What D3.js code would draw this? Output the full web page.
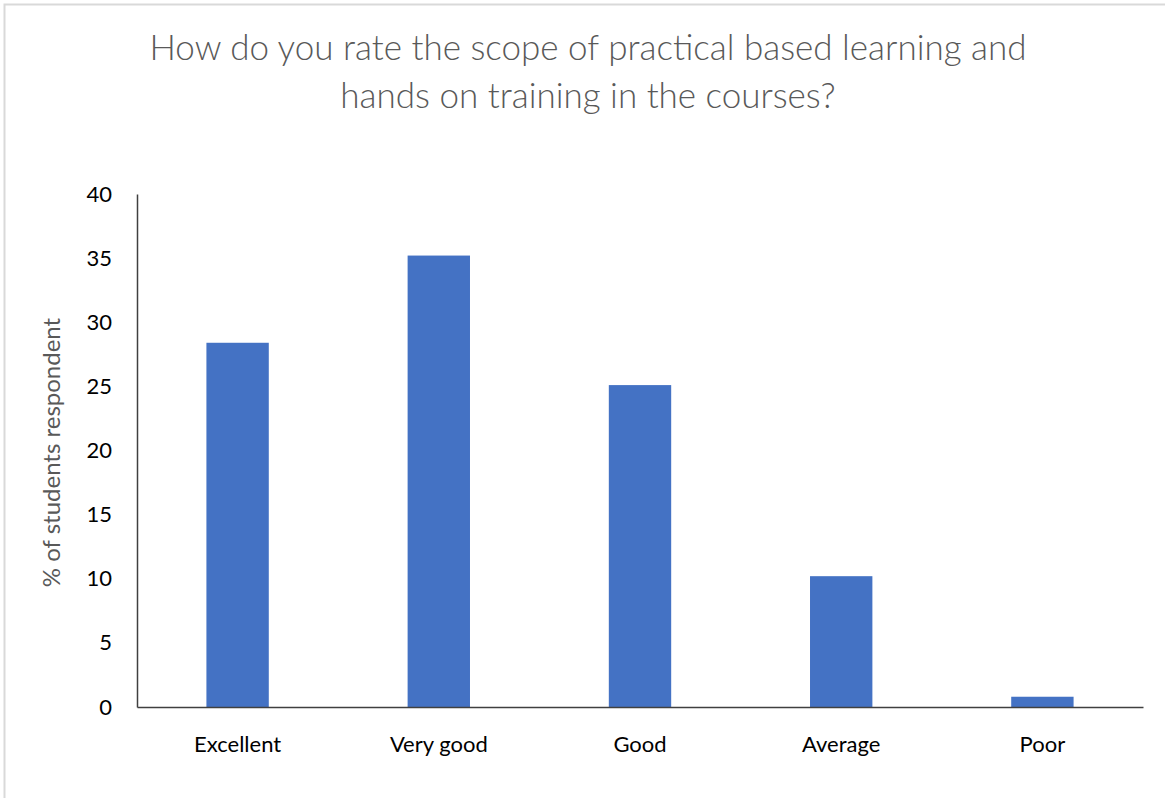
<html lang="en">
<head>
<meta charset="utf-8">
<title>Practical based learning rating</title>
<script src="https://cdnjs.cloudflare.com/ajax/libs/d3/7.8.5/d3.min.js"></script>
<style>
  body { margin: 0; background: white; }
  svg { display: block; font-family: Lato, "Open Sans", sans-serif; }
  .title { font-size: 35px; fill: #595959; font-weight: 300; }
  .ylabel { font-size: 24px; fill: #595959; }
  .axis text { font-size: 22px; fill: #000; font-family: Lato, "Open Sans", sans-serif; }
  .axis path { stroke: #404040; stroke-width: 1.5px; }
  .axis line { display: none; }
</style>
</head>
<body>
<script>
var categories = ["Excellent", "Very good", "Good", "Average", "Poor"];
var values = [28.4, 35.2, 25.1, 10.2, 0.8];
var yTicks = [0, 5, 10, 15, 20, 25, 30, 35, 40];

var fullwidth = 1165, fullheight = 798;
var margin = { top: 194, right: 22, bottom: 91, left: 137 };
var width = fullwidth - margin.left - margin.right;
var height = fullheight - margin.top - margin.bottom;

var root = d3.select("body").append("svg")
  .attr("width", fullwidth)
  .attr("height", fullheight);

// chart frame
root.append("rect")
  .attr("x", 4.5).attr("y", 4.5)
  .attr("width", fullwidth + 10).attr("height", fullheight + 10)
  .attr("fill", "none")
  .attr("stroke", "#d9d9d9")
  .attr("stroke-width", 2);

root.append("text").attr("class", "title")
  .attr("x", 588).attr("y", 60)
  .attr("text-anchor", "middle")
  .text("How do you rate the scope of practical based learning and");
root.append("text").attr("class", "title")
  .attr("x", 588).attr("y", 108)
  .attr("text-anchor", "middle")
  .text("hands on training in the courses?");

var svg = root.append("g")
  .attr("transform", "translate(" + margin.left + "," + margin.top + ")");

var xScale = d3.scaleBand().domain(categories).range([0, width]).paddingInner(0.69).paddingOuter(0.345);
var yScale = d3.scaleLinear().domain([0, 40]).range([height, 0]);

svg.selectAll("rect.bar")
  .data(values)
  .enter()
  .append("rect")
  .attr("class", "bar")
  .attr("x", function(d, i) { return xScale(categories[i]); })
  .attr("y", function(d) { return yScale(d); })
  .attr("width", xScale.bandwidth())
  .attr("height", function(d) { return height - yScale(d); })
  .attr("fill", "#4472C4");

svg.append("g")
  .attr("class", "x axis")
  .attr("transform", "translate(0," + height + ")")
  .call(d3.axisBottom(xScale).tickSize(0).tickPadding(29).tickSizeOuter(0));

svg.append("g")
  .attr("class", "y axis")
  .call(d3.axisLeft(yScale).tickValues(yTicks).tickSize(0).tickPadding(25).tickSizeOuter(0));

svg.append("text")
  .attr("class", "ylabel")
  .attr("transform", "translate(-77," + (height / 2 + 2) + ") rotate(-90)")
  .attr("text-anchor", "middle")
  .text("% of students respondent");
</script>
</body>
</html>
